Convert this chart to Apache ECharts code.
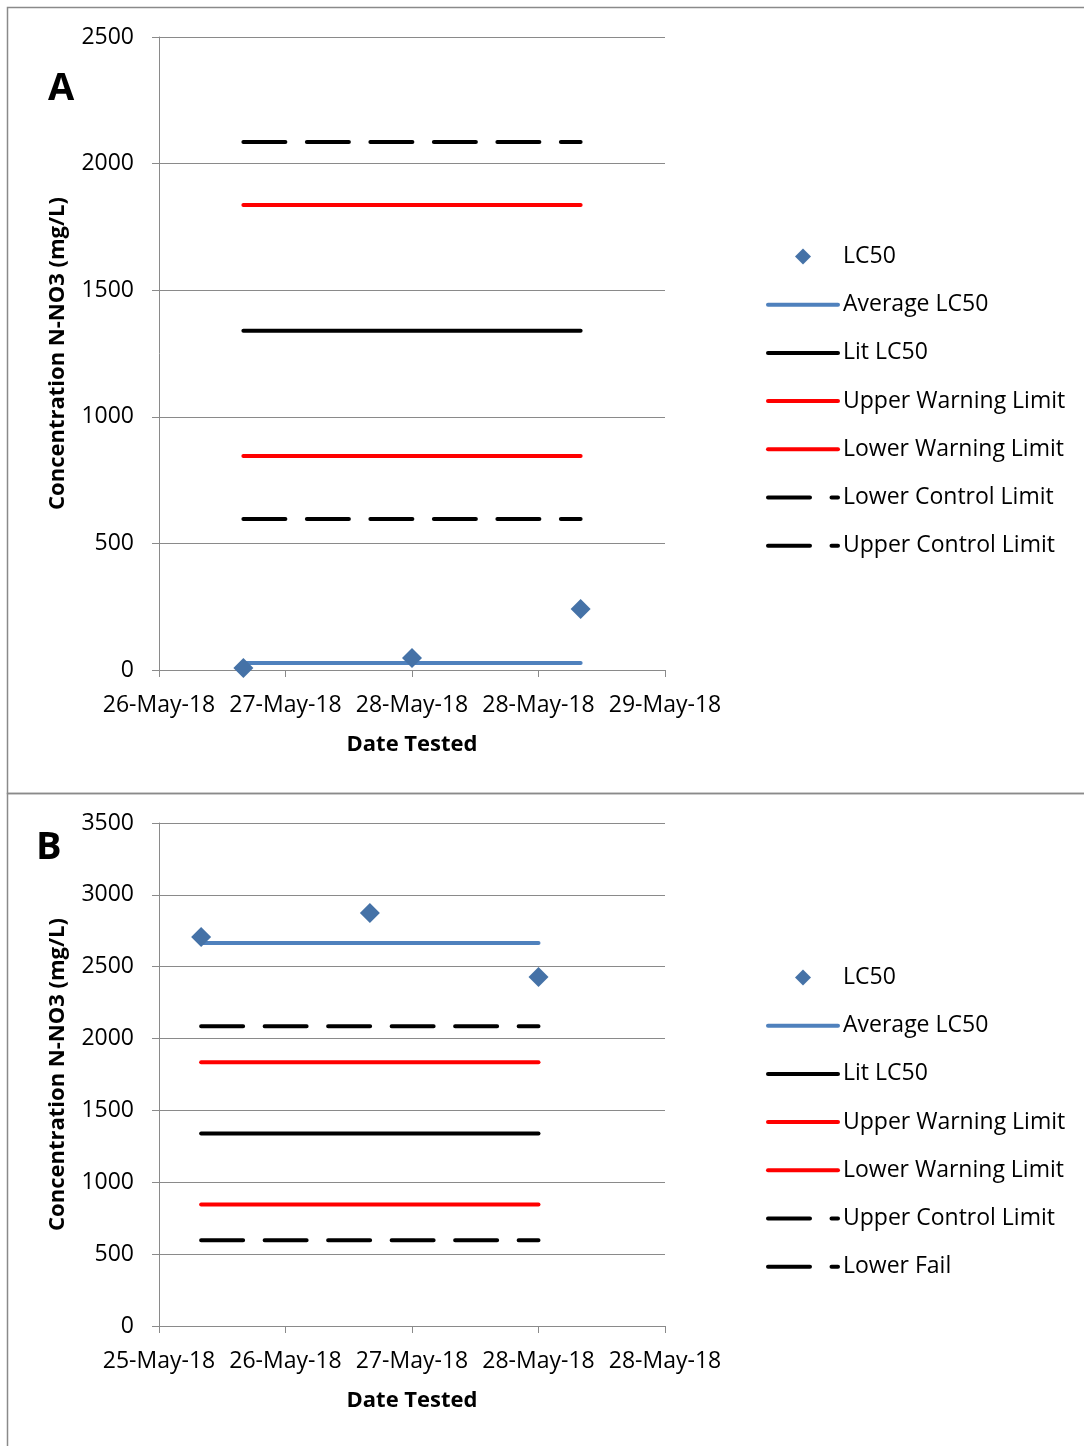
<!DOCTYPE html>
<html lang="en">
<head>
    <meta charset="UTF-8">
    <title>LC50 control charts</title>
    <script src="https://cdn.jsdelivr.net/npm/echarts@6/dist/echarts.min.js"></script>
    <style>
        body { margin: 0; background: #fff; }
    </style>
</head>
<body>
    <div id="myChart" style="width: 1084px;height: 1446px;"></div>
    <script>
        // tick labels on the date axis (Excel shows 0.75-day steps)
        var xTicksA = ['26-May-18', '27-May-18', '28-May-18', '28-May-18', '29-May-18'];
        var xTicksB = ['25-May-18', '26-May-18', '27-May-18', '28-May-18', '28-May-18'];

        // test positions in tick units and measured LC50
        var datesA = [0.667, 2.0, 3.333];
        var lc50A = [8, 47, 241];
        var avgA = 28;

        var datesB = [0.333, 1.667, 3.0];
        var lc50B = [2707, 2874, 2429];
        var avgB = 2665;

        // limits (same for both charts)
        var litLC50 = 1340;
        var upperWarn = 1836;
        var lowerWarn = 845;
        var upperControl = 2085;
        var lowerControl = 596;

        var legendA = ['LC50', 'Average LC50', 'Lit LC50', 'Upper Warning Limit', 'Lower Warning Limit', 'Lower Control Limit', 'Upper Control Limit'];
        var legendB = ['LC50', 'Average LC50', 'Lit LC50', 'Upper Warning Limit', 'Lower Warning Limit', 'Upper Control Limit', 'Lower Fail'];

        var FONT = 'Open Sans';
        var gridColor = '#8a8a8a';
        var dash = [42, 21.5];

        function span(dates, v) {
            return [[dates[0], v], [dates[dates.length - 1], v]];
        }

        function lineSeries(name, dates, v, color, type, idx) {
            return {
                name: name,
                type: 'line',
                xAxisIndex: idx,
                yAxisIndex: idx,
                symbol: 'none',
                silent: true,
                data: span(dates, v),
                lineStyle: { color: color, width: 4, type: type, cap: 'round' },
                itemStyle: { color: color }
            };
        }

        function xAxis(idx, ticks) {
            return {
                type: 'value',
                gridIndex: idx,
                min: 0, max: 4, interval: 1,
                name: 'Date Tested',
                nameLocation: 'middle',
                nameGap: 64,
                nameTextStyle: { fontFamily: FONT, fontSize: 22, fontWeight: 'bold', color: '#000' },
                axisLine: { lineStyle: { color: gridColor, width: 1 } },
                axisTick: { show: true, length: 7, lineStyle: { color: gridColor } },
                splitLine: { show: false },
                axisLabel: {
                    margin: 24, fontFamily: FONT, fontSize: 23, color: '#000',
                    formatter: function (v) { return ticks[Math.round(v)]; }
                }
            };
        }

        function yAxis(idx, max) {
            return {
                type: 'value',
                gridIndex: idx,
                min: 0, max: max, interval: 500,
                name: 'Concentration N-NO3 (mg/L)',
                nameLocation: 'middle',
                nameGap: 90,
                nameTextStyle: { fontFamily: FONT, fontSize: 22, fontWeight: 'bold', color: '#000' },
                axisLine: { show: true, lineStyle: { color: gridColor, width: 1 } },
                axisTick: { show: true, length: 7, lineStyle: { color: gridColor } },
                splitLine: { show: true, lineStyle: { color: gridColor, width: 1 } },
                axisLabel: {
                    margin: 25, fontFamily: FONT, fontSize: 23, color: '#000',
                    formatter: function (v) { return String(v); }
                }
            };
        }

        function legend(top, names) {
            return {
                orient: 'vertical',
                left: 766,
                top: top,
                padding: 0,
                itemWidth: 70,
                itemHeight: 16,
                itemGap: 25.2,
                selectedMode: false,
                data: names.map(function (n) {
                    if (n === 'LC50') {
                        return { name: n, icon: 'path://M0,8L8,0L16,8L8,16Z' };
                    }
                    return { name: n, itemStyle: { opacity: 0 } };
                }),
                lineStyle: { width: 4, cap: 'round' },
                textStyle: { fontFamily: FONT, fontSize: 23, color: '#000' }
            };
        }

        var series = [
            {
                name: 'LC50', type: 'scatter', xAxisIndex: 0, yAxisIndex: 0,
                symbol: 'diamond', symbolSize: 20,
                data: datesA.map(function (d, i) { return [d, lc50A[i]]; }),
                itemStyle: { color: '#4572a7', opacity: 1 }, z: 5
            },
            lineSeries('Average LC50', datesA, avgA, '#4f81bd', 'solid', 0),
            lineSeries('Lit LC50', datesA, litLC50, '#000', 'solid', 0),
            lineSeries('Upper Warning Limit', datesA, upperWarn, '#ff0000', 'solid', 0),
            lineSeries('Lower Warning Limit', datesA, lowerWarn, '#ff0000', 'solid', 0),
            lineSeries('Lower Control Limit', datesA, lowerControl, '#000', dash, 0),
            lineSeries('Upper Control Limit', datesA, upperControl, '#000', dash, 0),
            {
                name: 'LC50', type: 'scatter', xAxisIndex: 1, yAxisIndex: 1,
                symbol: 'diamond', symbolSize: 20,
                data: datesB.map(function (d, i) { return [d, lc50B[i]]; }),
                itemStyle: { color: '#4572a7', opacity: 1 }, z: 5
            },
            lineSeries('Average LC50', datesB, avgB, '#4f81bd', 'solid', 1),
            lineSeries('Lit LC50', datesB, litLC50, '#000', 'solid', 1),
            lineSeries('Upper Warning Limit', datesB, upperWarn, '#ff0000', 'solid', 1),
            lineSeries('Lower Warning Limit', datesB, lowerWarn, '#ff0000', 'solid', 1),
            lineSeries('Upper Control Limit', datesB, upperControl, '#000', dash, 1),
            lineSeries('Lower Fail', datesB, lowerControl, '#000', dash, 1)
        ];

        var myChart = echarts.init(document.getElementById('myChart'));
        var option = {
            animation: false,
            backgroundColor: '#fff',
            grid: [
                { left: 159, top: 37, width: 506, height: 633 },
                { left: 159, top: 823, width: 506, height: 503 }
            ],
            xAxis: [xAxis(0, xTicksA), xAxis(1, xTicksB)],
            yAxis: [yAxis(0, 2500), yAxis(1, 3500)],
            legend: [legend(245, legendA), legend(966, legendB)],
            graphic: [
                { type: 'rect', shape: { x: 7.5, y: 7.5, width: 1090, height: 786 }, style: { fill: 'none', stroke: '#8a8a8a', lineWidth: 1.5 }, silent: true },
                { type: 'rect', shape: { x: 7.5, y: 793.5, width: 1090, height: 670 }, style: { fill: 'none', stroke: '#8a8a8a', lineWidth: 1.5 }, silent: true },
                { type: 'text', left: 48, top: 70, style: { text: 'A', fontFamily: FONT, fontSize: 38, fontWeight: 'bold', fill: '#000' } },
                { type: 'text', left: 36, top: 829, style: { text: 'B', fontFamily: FONT, fontSize: 38, fontWeight: 'bold', fill: '#000' } }
            ],
            series: series
        };

        myChart.setOption(option);
    </script>
</body>
</html>
